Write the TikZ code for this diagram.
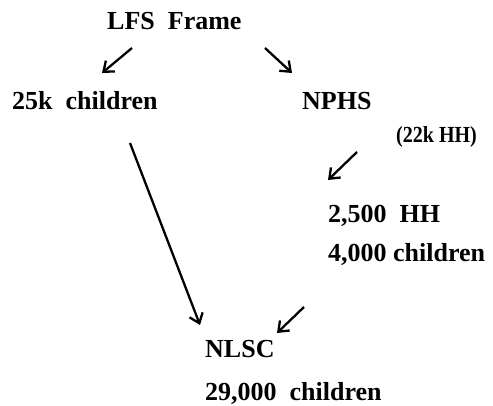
\documentclass[tikz,border=0pt]{standalone}
\usepackage{fontspec}
\setmainfont{Liberation Serif}
\usetikzlibrary{arrows.meta}
\begin{document}
\begin{tikzpicture}[x=1pt,y=-1pt,
  lbl/.style={inner sep=0pt,anchor=base west,font=\bfseries\fontsize{26}{30}\selectfont},
  small/.style={inner sep=0pt,anchor=base west,font=\bfseries\fontsize{23}{26}\selectfont},
  arr/.style={line width=2.3pt,-{Straight Barb[length=9pt,width=14pt,line width=2.3pt]}}]
\useasboundingbox (0,0) rectangle (493,406);
\node[lbl] (lfs) at (107,30) {LFS\ \ Frame};
\node[lbl] (c25) at (12,110) {25k\ \ children};
\node[lbl] (nphs) at (302,110) {NPHS};
\node[small] (hh22) at (396,143) {\scalebox{0.87}[1]{(22k HH)}};
\node[lbl] (hh) at (328,223) {2,500\ \ HH};
\node[lbl] (c4) at (328,262) {4,000 children};
\node[lbl] (nlsc) at (205,357) {NLSC};
\node[lbl] (c29) at (205,400) {29,000\ \ children};
\coordinate (a1s) at (132,48); \coordinate (a1e) at (102,73);
\coordinate (a2s) at (265,48); \coordinate (a2e) at (292,73);
\coordinate (a3s) at (357,152); \coordinate (a3e) at (328,180);
\coordinate (a4s) at (130,143); \coordinate (a4e) at (200,325);
\coordinate (a5s) at (304,307); \coordinate (a5e) at (277,333);
\draw[arr] (a1s) -- (a1e);
\draw[arr] (a2s) -- (a2e);
\draw[arr] (a3s) -- (a3e);
\draw[arr] (a4s) -- (a4e);
\draw[arr] (a5s) -- (a5e);
\end{tikzpicture}
\end{document}
